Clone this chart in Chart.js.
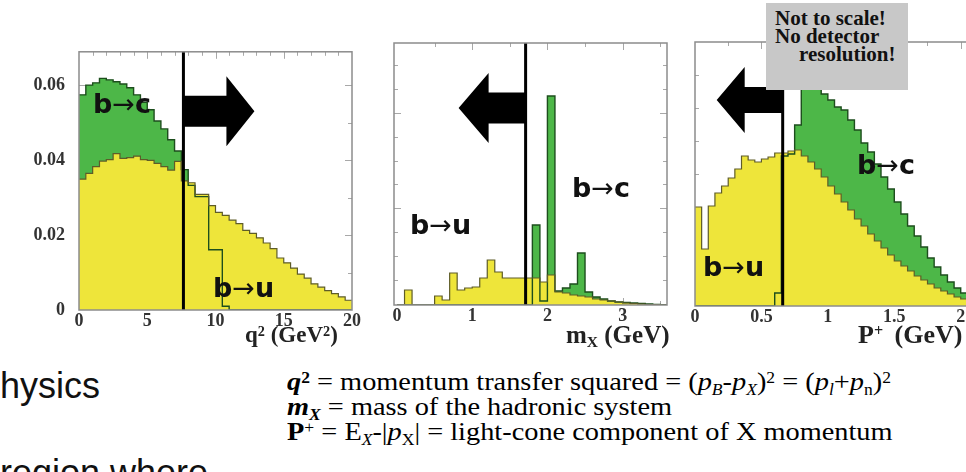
<!DOCTYPE html>
<html>
<head>
<meta charset="utf-8">
<script src="https://cdn.jsdelivr.net/npm/chart.js@4.4.1/dist/chart.umd.min.js"></script>
<style>
  html, body { margin:0; padding:0; }
  body { width:966px; height:472px; overflow:hidden; position:relative; background:#fff; }
  .pane { position:absolute; }
  .lbl { position:absolute; font-family:"DejaVu Sans", sans-serif; font-weight:bold; font-size:27px; line-height:1; color:#111; white-space:nowrap; }
  .lbl .ar { font-weight:normal; }
  .ax { position:absolute; font-family:"Liberation Serif", serif; font-weight:bold; font-size:23px; line-height:1; color:#222; white-space:nowrap; }
  .sup { position:relative; top:-0.45em; font-size:0.62em; line-height:0; }
  .sub { position:relative; top:0.28em; font-size:0.62em; line-height:0; }
  #note { position:absolute; left:766px; top:3px; width:142px; height:87px; background:#c8c8c8; box-sizing:border-box; padding:6px 0 0 9px;
          font-family:"Liberation Serif", serif; font-weight:bold; font-size:21px; line-height:18px; color:#111; white-space:nowrap; }
  #defs { position:absolute; left:287px; top:369px; font-family:"Liberation Serif", serif; font-size:26px; line-height:25px; color:#000; white-space:nowrap;
          transform:scaleX(1.09); transform-origin:0 0; }
  .slide { position:absolute; font-family:"Liberation Sans", Arial, sans-serif; font-size:36px; line-height:1; color:#111; white-space:nowrap; }
</style>
</head>
<body>

<div class="pane" style="left:0;top:35px;width:362px;height:305px"><canvas id="c1" width="362" height="305"></canvas></div>
<div class="pane" style="left:380px;top:40px;width:300px;height:295px"><canvas id="c2" width="300" height="295"></canvas></div>
<div class="pane" style="left:682px;top:40px;width:300px;height:296px"><canvas id="c3" width="300" height="296"></canvas></div>

<div class="lbl" style="left:93px;top:90px">b<span class="ar">→</span>c</div>
<div class="lbl" style="left:213px;top:274px">b<span class="ar">→</span>u</div>
<div class="lbl" style="left:572px;top:174px">b<span class="ar">→</span>c</div>
<div class="lbl" style="left:410px;top:211px">b<span class="ar">→</span>u</div>
<div class="lbl" style="left:857px;top:151px">b<span class="ar">→</span>c</div>
<div class="lbl" style="left:703px;top:253px">b<span class="ar">→</span>u</div>

<div class="ax" style="left:245px;top:323px">q<span class="sup">2</span> (GeV<span class="sup">2</span>)</div>
<div class="ax" style="left:566px;top:322px;font-size:25px">m<span class="sub">X</span> (GeV)</div>
<div class="ax" style="left:858px;top:322px;font-size:26px;word-spacing:5px">P<span class="sup">+</span> (GeV)</div>

<div id="note">Not to scale!<br>No detector<br><span style="padding-left:24px">resolution!</span></div>

<div class="slide" style="left:-20px;top:368px">physics</div>
<div class="slide" style="left:0px;top:455px">region where</div>

<div id="defs">
  <div><b><i>q</i><span class="sup">2</span></b> = momentum transfer squared = (<i>p</i><span class="sub"><i>B</i></span>-<i>p</i><span class="sub"><i>X</i></span>)<span class="sup">2</span> = (<i>p</i><span class="sub"><i>l</i></span>+<i>p</i><span class="sub">n</span>)<span class="sup">2</span></div>
  <div><b><i>m</i><span class="sub"><i>X</i></span></b> = mass of the hadronic system</div>
  <div><b>P</b><span class="sup">+</span> = E<span class="sub"><i>X</i></span>-|<i>p</i><span class="sub">X</span>| = light-cone component of X momentum</div>
</div>

<script>
// ---------------- DATA ----------------
// Panel 1: q^2 (GeV^2), bin lower edges, width 0.5
const q2BinStart = [0,0.5,1,1.5,2,2.5,3,3.5,4,4.5,5,5.5,6,6.5,7,7.5,8,8.5,9,9.5,
                    10,10.5,11,11.5,12,12.5,13,13.5,14,14.5,15,15.5,16,16.5,17,17.5,18,18.5,19,19.5];
const q2BinWidth = 0.5;
const q2_bToU = [0.0350,0.0365,0.0383,0.0398,0.0402,0.0418,0.0405,0.0407,0.0411,0.0402,
                 0.0400,0.0392,0.0383,0.0374,0.0397,0.0345,0.0340,0.0309,0.0309,0.0279,
                 0.0261,0.0253,0.0240,0.0231,0.0213,0.0205,0.0193,0.0179,0.0164,0.0139,
                 0.0126,0.0112,0.0096,0.0085,0.0070,0.0061,0.0052,0.0044,0.0035,0.0026];
const q2_bToC = [0.0575,0.0601,0.0607,0.0619,0.0615,0.0610,0.0604,0.0594,0.0575,0.0555,
                 0.0535,0.0505,0.0484,0.0455,0.0425,0.0375,0.0333,0.0303,0.0303,0.0161,
                 0.0161,0.0010,0,0,0,0,0,0,0,0,
                 0,0,0,0,0,0,0,0,0,0];
const q2Cut = 7.65;
const q2XTicks = [0,5,10,15,20];
const q2YTicks = [0,0.02,0.04,0.06];

// Panel 2: m_X (GeV), bin lower edges, width 0.1 (arbitrary units)
const mXBinStart = [0,0.1,0.2,0.3,0.4,0.5,0.6,0.7,0.8,0.9,1.0,1.1,1.2,1.3,1.4,1.5,1.6,1.7,
                    1.8,1.9,2.0,2.1,2.2,2.3,2.4,2.5,2.6,2.7,2.8,2.9,3.0,3.1,3.2,3.3,3.4,3.5];
const mXBinWidth = 0.1;
const mX_bToU = [0,15,0,0,0,9,5,32,15,17,18,27,45,33,27,27,27,27,
                 27,23,30,13,12,10,9,8,6,5,4,3,2,1.5,1,0.5,0.3,0];
const mX_bToC = [0,0,0,0,0,0,0,0,0,0,0,0,0,0,0,0,0,0,
                 80,4,209,14,17,21,52,13,8,6,4,3,2.5,2,1.5,1,0.5,0.3];
const mXCut = 1.71;
const mXXTicks = [0,1,2,3];

// Panel 3: P+ (GeV), bin lower edges, width 0.05 (arbitrary units)
const pPlusBinStart = [0,0.05,0.1,0.15,0.2,0.25,0.3,0.35,0.4,0.45,0.5,0.55,0.6,0.65,0.7,0.75,0.8,0.85,0.9,0.95,
                       1.0,1.05,1.1,1.15,1.2,1.25,1.3,1.35,1.4,1.45,1.5,1.55,1.6,1.65,1.7,1.75,1.8,1.85,1.9,1.95,2.0,2.05];
const pPlusBinWidth = 0.05;
const pPlus_bToU = [99,57,100,113,120,128,137,150,146,144,147,149,153,153,155,156,150,144,137,129,
                    120,112,104,96,87,80,72,65,58,51,45,40,35,30,26,22,18,15,12,9,7,5];
const pPlus_bToC = [0,0,0,0,0,0,0,0,0,0,0,0,13,150,152,181,228,232,220,212,
                    206,199,196,186,176,163,154,142,129,117,104,92,80,70,59,48,39,31,24,18,13,9];
const pPlusCut = 0.66;
const pPlusXTicks = [0,0.5,1,1.5,2];

// ---------------- STYLE ----------------
const YELLOW = '#EEE53A', GREEN = '#4DB748', OLIVE = '#5E5C28', DKGREEN = '#1D4E1D';
const TICKFONT = { family: '"Liberation Serif", serif', size: 18, weight: 'bold' };

function histPoints(starts, width, vals) {
  const pts = starts.map((x, i) => ({ x: x, y: vals[i] }));
  pts.push({ x: starts[starts.length - 1] + width, y: vals[vals.length - 1] });
  return pts;
}
function histDatasets(starts, width, u, c) {
  return [
    { data: histPoints(starts, width, u), stepped: 'before', fill: false, borderColor: OLIVE, borderWidth: 1.2, order: 0 },
    { data: histPoints(starts, width, c), stepped: 'before', fill: false, borderColor: DKGREEN, borderWidth: 1.4, order: 1 },
    { data: histPoints(starts, width, u), stepped: 'before', fill: 'origin', backgroundColor: YELLOW, borderColor: 'rgba(0,0,0,0)', borderWidth: 1, order: 2 },
    { data: histPoints(starts, width, c), stepped: 'before', fill: 'origin', backgroundColor: GREEN, borderColor: 'rgba(0,0,0,0)', borderWidth: 1, order: 3 }
  ];
}

const decor = {
  id: 'decor',
  beforeDatasetsDraw(chart, args, o) {
    const { ctx, chartArea: a, scales: { x, y } } = chart;
    ctx.save();
    ctx.strokeStyle = '#a8a8a8'; ctx.lineWidth = 1;
    (o.xMinor || []).forEach(v => {
      const px = Math.round(x.getPixelForValue(v)) + 0.5;
      const L = (o.xMajor || []).includes(v) ? 7 : 4;
      ctx.beginPath(); ctx.moveTo(px, a.bottom); ctx.lineTo(px, a.bottom - L);
      ctx.moveTo(px, a.top); ctx.lineTo(px, a.top + L); ctx.stroke();
    });
    (o.yMinor || []).forEach(v => {
      const py = Math.round(y.getPixelForValue(v)) + 0.5;
      const L = (o.yMajor || []).includes(v) ? 7 : 4;
      ctx.beginPath(); ctx.moveTo(a.left, py); ctx.lineTo(a.left + L, py);
      ctx.moveTo(a.right, py); ctx.lineTo(a.right - L, py); ctx.stroke();
    });
    ctx.restore();
  },
  afterDatasetsDraw(chart, args, o) {
    const { ctx, chartArea: a, scales: { x, y } } = chart;
    const cx = x.getPixelForValue(o.cut);
    ctx.save();
    ctx.strokeStyle = '#000'; ctx.lineWidth = 3;
    ctx.beginPath(); ctx.moveTo(cx, a.top); ctx.lineTo(cx, a.bottom); ctx.stroke();
    const cy = y.getPixelForValue(o.arrowY);
    const d = o.dir, x0 = cx, xs = cx + d * o.shaft, xt = xs + d * o.head;
    ctx.fillStyle = '#000';
    ctx.beginPath();
    ctx.moveTo(x0, cy - o.shaftHalf); ctx.lineTo(xs, cy - o.shaftHalf); ctx.lineTo(xs, cy - o.headHalf);
    ctx.lineTo(xt, cy); ctx.lineTo(xs, cy + o.headHalf); ctx.lineTo(xs, cy + o.shaftHalf);
    ctx.lineTo(x0, cy + o.shaftHalf); ctx.closePath(); ctx.fill();
    ctx.strokeStyle = '#8c8c8c'; ctx.lineWidth = 1.5;
    ctx.strokeRect(a.left, a.top, a.right - a.left, a.bottom - a.top);
    ctx.restore();
  }
};

function makeChart(id, cfg) {
  return new Chart(document.getElementById(id), {
    type: 'line',
    data: { datasets: histDatasets(cfg.starts, cfg.width, cfg.u, cfg.c) },
    plugins: [decor],
    options: {
      responsive: false, animation: false, events: [],
      layout: { padding: cfg.padding },
      elements: { point: { radius: 0 }, line: { tension: 0 } },
      plugins: { legend: { display: false }, tooltip: { enabled: false }, decor: cfg.decor },
      scales: {
        x: {
          type: 'linear', min: cfg.xMin, max: cfg.xMax,
          grid: { display: false }, border: { display: false },
          ticks: { font: TICKFONT, color: '#333', padding: -7, maxRotation: 0, autoSkip: false, callback: v => String(v) },
          afterBuildTicks: s => { s.ticks = cfg.xTicks.map(v => ({ value: v })); },
          afterFit: s => { s.height = 30; }
        },
        y: {
          display: cfg.yLabels ? true : false,
          min: 0, max: cfg.yMax,
          grid: { display: false }, border: { display: false },
          ticks: { font: TICKFONT, color: '#333', padding: 6, callback: v => String(v) },
          afterBuildTicks: s => { s.ticks = (cfg.yTicks || []).map(v => ({ value: v })); },
          afterFit: s => { if (cfg.yLabels) s.width = 79; }
        }
      }
    }
  });
}

makeChart('c1', {
  starts: q2BinStart, width: q2BinWidth, u: q2_bToU, c: q2_bToC,
  xMin: 0, xMax: 20, yMax: 0.069, xTicks: q2XTicks, yTicks: q2YTicks, yLabels: true,
  padding: { left: 0, right: 10, top: 11, bottom: 0 },
  decor: { cut: q2Cut, dir: 1, arrowY: 0.0531, shaft: 43, head: 28, shaftHalf: 15.5, headHalf: 35,
           xMajor: q2XTicks, xMinor: [1,2,3,4,5,6,7,8,9,10,11,12,13,14,15,16,17,18,19],
           yMajor: q2YTicks, yMinor: [0.01,0.02,0.03,0.04,0.05,0.06] }
});

makeChart('c2', {
  starts: mXBinStart, width: mXBinWidth, u: mX_bToU, c: mX_bToC,
  xMin: -0.04, xMax: 3.59, yMax: 262, xTicks: mXXTicks, yTicks: [], yLabels: false,
  padding: { left: 14, right: 13, top: 3, bottom: 0 },
  decor: { cut: mXCut, dir: -1, arrowY: 197, shaft: 37, head: 30, shaftHalf: 15.5, headHalf: 35,
           xMajor: mXXTicks, xMinor: [0.5,1,1.5,2,2.5,3,3.5],
           yMajor: [97,192], yMinor: [25,49,73,97,121,144,168,192,216,240] }
});

makeChart('c3', {
  starts: pPlusBinStart, width: pPlusBinWidth, u: pPlus_bToU, c: pPlus_bToC,
  xMin: 0, xMax: 2.1, yMax: 264, xTicks: pPlusXTicks, yTicks: [], yLabels: false,
  padding: { left: 13, right: 8, top: 2, bottom: 0 },
  decor: { cut: pPlusCut, dir: -1, arrowY: 206, shaft: 38, head: 28, shaftHalf: 13, headHalf: 33,
           xMajor: pPlusXTicks, xMinor: [0.25,0.5,0.75,1,1.25,1.5,1.75,2],
           yMajor: [], yMinor: [33,66,99,132,165,198,231] }
});
</script>
</body>
</html>
